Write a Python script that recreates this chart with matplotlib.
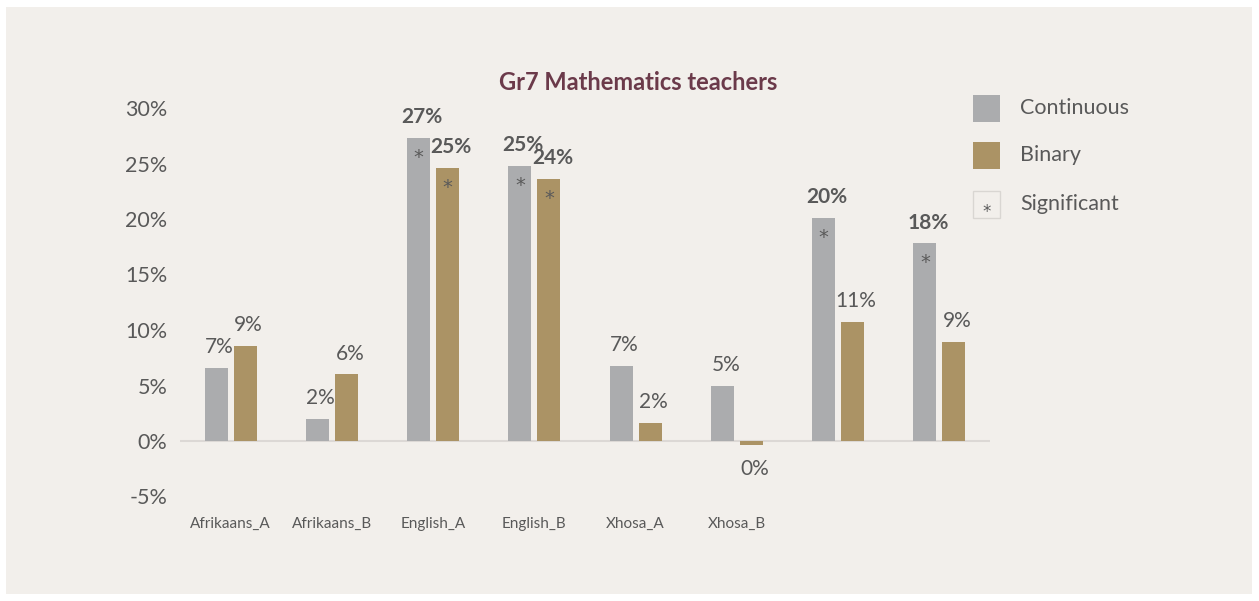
import numpy as np
import matplotlib.pyplot as plt
from matplotlib.patches import Rectangle

plt.rcParams['font.family'] = ['Lato', 'DejaVu Sans']

# Data
groups = ['Afrikaans_A', 'Afrikaans_B', 'English_A', 'English_B', 'Xhosa_A', 'Xhosa_B', '', '']
continuous = [0.066, 0.020, 0.273, 0.248, 0.068, 0.050, 0.201, 0.178]
binary = [0.086, 0.060, 0.246, 0.236, 0.016, -0.004, 0.107, 0.089]
cont_sig = [False, False, True, True, False, False, True, True]
bin_sig = [False, False, True, True, False, False, False, False]

bg = '#f2efeb'
gray = '#abacae'
gold = '#ab9365'
txt = '#595959'

fig = plt.figure(figsize=(12.59, 6.01), dpi=100, facecolor='white')
fig.patches.append(Rectangle((6 / 1259, 7 / 601), 1246 / 1259, 587 / 601,
                             transform=fig.transFigure, facecolor=bg,
                             edgecolor='none', zorder=-1))

ax = fig.add_axes([180 / 1259, 1 - 496.5 / 601, 810 / 1259, 388.5 / 601])
ax.patch.set_alpha(0)

x = np.arange(len(groups))
off = 0.143
w = 0.227
ax.bar(x - off, continuous, w, color=gray, zorder=2)
ax.bar(x + off, binary, w, color=gold, zorder=2)

ax.axhline(0, color='#dcd8d5', lw=1.5, zorder=1)
ax.set_xlim(-0.5, 7.5)
ax.set_ylim(-0.05, 0.30)
ax.set_yticks(np.arange(-0.05, 0.31, 0.05))
ax.set_yticklabels([f'{v:.0f}%' for v in np.arange(-5, 31, 5)], fontsize=15.5, color=txt)
ax.set_xticks(x)
ax.set_xticklabels(groups, fontsize=11, color=txt)
ax.tick_params(length=0)
ax.tick_params(axis='y', pad=9)
ax.tick_params(axis='x', pad=15)
for s in ax.spines.values():
    s.set_visible(False)


def label(xpos, val, sig):
    if val >= 0:
        ax.annotate(f'{val * 100:.0f}%', (xpos, val), xytext=(2.5, 15), textcoords='offset points',
                    ha='center', va='center', fontsize=15, color=txt,
                    fontweight='bold' if sig else 'normal')
    else:
        ax.annotate(f'{abs(val) * 100:.0f}%', (xpos, val), xytext=(2.5, -17), textcoords='offset points',
                    ha='center', va='center', fontsize=15, color=txt)
    if sig:
        ax.annotate('*', (xpos, val), xytext=(0, -14), textcoords='offset points',
                    ha='center', va='center', fontsize=14, color='#5a5a5a',
                    family='DejaVu Sans')


for i in range(len(groups)):
    label(x[i] - off, continuous[i], cont_sig[i])
    label(x[i] + off, binary[i], bin_sig[i])

fig.text(638 / 1259, 1 - 82 / 601, 'Gr7 Mathematics teachers', ha='center', va='center',
         fontsize=17, fontweight='bold', color='#6b3a4a')

# legend
items = [('Continuous', gray, 'none', ''), ('Binary', gold, 'none', ''),
         ('Significant', bg, '#d9d6d2', '*')]
ys = [108, 155, 204]
for (name, fc, ec, mk), yc in zip(items, ys):
    fig.patches.append(Rectangle((973 / 1259, 1 - (yc + 13.5) / 601), 27 / 1259, 27 / 601,
                                 transform=fig.transFigure, facecolor=fc, edgecolor=ec, lw=1))
    if mk:
        fig.text(986.5 / 1259, 1 - (yc + 8) / 601, mk, ha='center', va='center',
                 fontsize=12, color='#5a5a5a', family='DejaVu Sans')
    fig.text(1020 / 1259, 1 - yc / 601, name, ha='left', va='center', fontsize=15.5, color=txt)

fig.savefig('out.png', dpi=100, facecolor='white')
